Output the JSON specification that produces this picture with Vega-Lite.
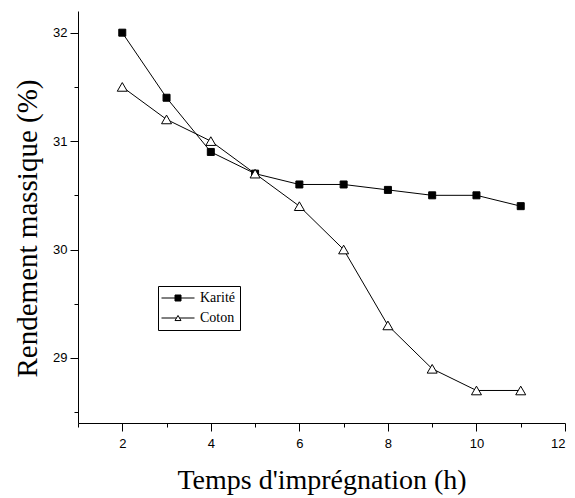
{
  "$schema": "https://vega.github.io/schema/vega-lite/v6.json",
  "width": 487,
  "height": 412,
  "autosize": {"type": "none"},
  "padding": {"left": 78, "top": 11, "right": 10, "bottom": 75},
  "background": "white",
  "config": {
    "view": {"stroke": null},
    "axis": {
      "domainColor": "black",
      "domainWidth": 1,
      "tickColor": "black",
      "tickWidth": 1,
      "grid": false,
      "labelFont": "Liberation Sans",
      "labelFontSize": 13,
      "labelColor": "black",
      "titleFont": "Liberation Serif",
      "titleFontWeight": "normal",
      "titleColor": "black"
    },
    "legend": {
      "title": null,
      "orient": "none",
      "legendX": 80,
      "legendY": 275,
      "strokeColor": "black",
      "padding": 5,
      "rowPadding": 6,
      "labelFont": "Liberation Serif",
      "labelFontSize": 14,
      "labelColor": "black",
      "symbolOffset": 8,
      "labelOffset": 15,
      "symbolSize": 36,
      "symbolStrokeColor": "black",
      "symbolStrokeWidth": 1
    }
  },
  "data": {
    "values": [
      {"t": 2, "series": "Karité", "r": 32.0},
      {"t": 3, "series": "Karité", "r": 31.4},
      {"t": 4, "series": "Karité", "r": 30.9},
      {"t": 5, "series": "Karité", "r": 30.7},
      {"t": 6, "series": "Karité", "r": 30.6},
      {"t": 7, "series": "Karité", "r": 30.6},
      {"t": 8, "series": "Karité", "r": 30.55},
      {"t": 9, "series": "Karité", "r": 30.5},
      {"t": 10, "series": "Karité", "r": 30.5},
      {"t": 11, "series": "Karité", "r": 30.4},
      {"t": 2, "series": "Coton", "r": 31.5},
      {"t": 3, "series": "Coton", "r": 31.2},
      {"t": 4, "series": "Coton", "r": 31.0},
      {"t": 5, "series": "Coton", "r": 30.7},
      {"t": 6, "series": "Coton", "r": 30.4},
      {"t": 7, "series": "Coton", "r": 30.0},
      {"t": 8, "series": "Coton", "r": 29.3},
      {"t": 9, "series": "Coton", "r": 28.9},
      {"t": 10, "series": "Coton", "r": 28.7},
      {"t": 11, "series": "Coton", "r": 28.7}
    ]
  },
  "layer": [
    {
      "mark": {"type": "line", "color": "black", "strokeWidth": 1},
      "encoding": {
        "x": {
          "field": "t", "type": "quantitative",
          "scale": {"domain": [1, 12], "nice": false, "zero": false},
          "axis": {"orient": "bottom", "values": [1, 3, 5, 7, 9, 11], "tickSize": 4, "labels": false, "domain": false, "title": null}
        },
        "y": {
          "field": "r", "type": "quantitative",
          "scale": {"domain": [28.4, 32.2], "nice": false, "zero": false},
          "axis": {"orient": "left", "values": [28.5, 29.5, 30.5, 31.5], "tickSize": 4, "labels": false, "domain": false, "title": null}
        },
        "detail": {"field": "series"}
      }
    },
    {
      "mark": {"type": "point", "stroke": "black", "strokeWidth": 1, "opacity": 1},
      "encoding": {
        "x": {
          "field": "t", "type": "quantitative",
          "axis": {"orient": "bottom", "values": [2, 4, 6, 8, 10, 12], "tickSize": 8, "labelPadding": 6, "title": "Temps d'imprégnation (h)", "titleFont": "Liberation Serif", "titleFontSize": 28, "titlePadding": 16}
        },
        "y": {
          "field": "r", "type": "quantitative",
          "axis": {"orient": "left", "values": [29, 30, 31, 32], "tickSize": 8, "labelPadding": 3, "title": "Rendement massique (%)", "titleFont": "Liberation Serif", "titleFontSize": 29, "titlePadding": 10, "titleY": 217}
        },
        "shape": {
          "field": "series", "type": "nominal",
          "scale": {"domain": ["Karité", "Coton"], "range": ["square", "triangle-up"]},
          "legend": null
        },
        "fill": {
          "field": "series", "type": "nominal",
          "scale": {"domain": ["Karité", "Coton"], "range": ["black", "white"]},
          "legend": null
        },
        "size": {
          "field": "series", "type": "nominal",
          "scale": {"domain": ["Karité", "Coton"], "range": [49, 100]},
          "legend": null
        }
      }
    },
    {
      "transform": [{"filter": "datum.t > 100"}],
      "mark": {"type": "point", "stroke": "black", "strokeWidth": 1, "opacity": 1, "size": 36},
      "encoding": {
        "x": {"field": "t", "type": "quantitative", "axis": null},
        "y": {"field": "r", "type": "quantitative", "axis": null},
        "shape": {
          "field": "series", "type": "nominal",
          "scale": {"domain": ["Karité", "Coton"], "range": ["M-5.5,0H-1M1,0H5.5M-1,-1H1V1H-1Z", "M-5.5,0H-0.5M0.5,0H5.5M-1,0.85L0,-0.85L1,0.85Z"]}
        },
        "fill": {
          "field": "series", "type": "nominal",
          "scale": {"domain": ["Karité", "Coton"], "range": ["black", "white"]}
        },
        "stroke": {
          "field": "series", "type": "nominal",
          "scale": {"domain": ["Karité", "Coton"], "range": ["black", "black"]}
        }
      }
    }
  ],
  "resolve": {
    "axis": {"x": "independent", "y": "independent"},
    "scale": {"shape": "independent", "fill": "independent", "size": "independent", "stroke": "independent"}
  }
}
